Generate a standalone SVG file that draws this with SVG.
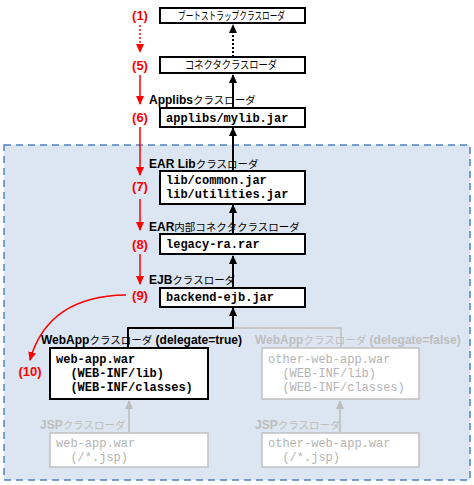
<svg xmlns="http://www.w3.org/2000/svg" width="474" height="485" viewBox="0 0 474 485">
<style>
.box{fill:#fff;stroke:#000;stroke-width:2}
.gbox{fill:#fff;stroke:#c0c0c0;stroke-width:1.5}
.mono{font-family:"Liberation Mono",monospace;font-size:12px;font-weight:bold;fill:#000}
.gmono{font-family:"Liberation Mono",monospace;font-size:12px;fill:#b4b4b4}
.jp{font-family:"Liberation Sans","Noto Sans CJK JP",sans-serif;font-size:11px;fill:#000}
.lbl{font-family:"Liberation Sans","Noto Sans CJK JP",sans-serif;font-size:12px;fill:#000}
.glbl{font-family:"Liberation Sans","Noto Sans CJK JP",sans-serif;font-size:12px;fill:#bdbdbd}
.b{font-weight:bold}
.k{font-size:10.5px}
.num{font-family:"Liberation Sans",sans-serif;font-size:13px;font-weight:bold;fill:#ff0000;text-anchor:middle}
.red{stroke:#ff0000;stroke-width:1.5;fill:none}
.blk{stroke:#000;stroke-width:2;fill:none}
.gry{stroke:#bdbdbd;stroke-width:1.5;fill:none}
</style>
<defs>
<marker id="ar" markerWidth="10" markerHeight="10" refX="8" refY="5" orient="auto" markerUnits="userSpaceOnUse"><path d="M0,1 L9,5 L0,9 Z" fill="#ff0000"/></marker>
<marker id="ab" markerWidth="10" markerHeight="10" refX="8" refY="5" orient="auto" markerUnits="userSpaceOnUse"><path d="M0,1 L9,5 L0,9 Z" fill="#000"/></marker>
<marker id="ag" markerWidth="10" markerHeight="10" refX="8" refY="5" orient="auto" markerUnits="userSpaceOnUse"><path d="M0,1 L9,5 L0,9 Z" fill="#bdbdbd"/></marker>
</defs>
<rect id="container" x="4" y="145" width="466" height="335" fill="#dce6f2" stroke="#4f81bd" stroke-width="1.5" stroke-dasharray="7,5"/>

<g id="connectors">
<line class="blk" x1="233" y1="57" x2="233" y2="25" stroke-dasharray="2,2" marker-end="url(#ab)"/>
<line class="blk" x1="233" y1="108" x2="233" y2="75" marker-end="url(#ab)"/>
<line class="blk" x1="233" y1="171" x2="233" y2="128" marker-end="url(#ab)"/>
<line class="blk" x1="233" y1="234" x2="233" y2="205" marker-end="url(#ab)"/>
<line class="blk" x1="233" y1="289" x2="233" y2="256" marker-end="url(#ab)"/>
<polyline class="gry" points="341,348 341,328 233,328"/>
<polyline class="blk" points="128,348 128,328 233,328 233,308" marker-end="url(#ab)"/>
<line class="gry" x1="129" y1="433" x2="129" y2="401" marker-end="url(#ag)"/>
<line class="gry" x1="340" y1="433" x2="340" y2="401" marker-end="url(#ag)"/>
<line class="red" x1="140" y1="25" x2="140" y2="52" stroke-dasharray="2,2" marker-end="url(#ar)"/>
<line class="red" x1="140" y1="75" x2="140" y2="104" marker-end="url(#ar)"/>
<line class="red" x1="140" y1="127" x2="140" y2="175" marker-end="url(#ar)"/>
<line class="red" x1="140" y1="199" x2="140" y2="230" marker-end="url(#ar)"/>
<line class="red" x1="140" y1="254" x2="140" y2="284" marker-end="url(#ar)"/>
<path class="red" d="M126,295 Q48,296 30,360" marker-end="url(#ar)"/>
</g>

<g id="n1"><rect class="box" x="160" y="8" width="145" height="15"/><text class="jp" x="178" y="19.5" textLength="107" lengthAdjust="spacingAndGlyphs">ブートストラップクラスローダ</text></g>
<g id="n5"><rect class="box" x="160" y="57" width="145" height="16"/><text class="jp" x="185" y="69" textLength="92" lengthAdjust="spacingAndGlyphs">コネクタクラスローダ</text></g>
<g id="n6"><text class="lbl" x="149" y="104"><tspan class="b">Applibs</tspan><tspan class="k">クラスローダ</tspan></text><rect class="box" x="160" y="108" width="145" height="19"/><text class="mono" x="166" y="122">applibs/mylib.jar</text></g>
<g id="n7"><text class="lbl" x="149" y="168"><tspan class="b">EAR Lib</tspan><tspan class="k">クラスローダ</tspan></text><rect class="box" x="160" y="171" width="145" height="33"/><text class="mono" x="166" y="184">lib/common.jar</text><text class="mono" x="166" y="198">lib/utilities.jar</text></g>
<g id="n8"><text class="lbl" x="149" y="231"><tspan class="b">EAR</tspan><tspan class="k">内部コネクタクラスローダ</tspan></text><rect class="box" x="160" y="234" width="145" height="20"/><text class="mono" x="166" y="248">legacy-ra.rar</text></g>
<g id="n9"><text class="lbl" x="149" y="284"><tspan class="b">EJB</tspan><tspan class="k">クラスローダ</tspan></text><rect class="box" x="160" y="288" width="145" height="19"/><text class="mono" x="166" y="301">backend-ejb.jar</text></g>
<g id="n10"><text class="lbl" x="41" y="344"><tspan class="b">WebApp</tspan><tspan class="k">クラスローダ</tspan> <tspan class="b">(delegate=true)</tspan></text><rect class="box" x="50" y="348" width="158" height="51"/><text class="mono" x="56" y="363">web-app.war</text><text class="mono" x="56" y="377" xml:space="preserve">  (WEB-INF/lib)</text><text class="mono" x="56" y="391" xml:space="preserve">  (WEB-INF/classes)</text></g>
<g id="n11"><text class="glbl" x="255" y="344"><tspan class="b">WebApp</tspan><tspan class="k">クラスローダ</tspan> <tspan class="b">(delegate=false)</tspan></text><rect class="gbox" x="262" y="348" width="157" height="51"/><text class="gmono" x="268" y="363">other-web-app.war</text><text class="gmono" x="268" y="377" xml:space="preserve">  (WEB-INF/lib)</text><text class="gmono" x="268" y="391" xml:space="preserve">  (WEB-INF/classes)</text></g>
<g id="n12"><text class="glbl" x="40" y="429"><tspan class="b">JSP</tspan><tspan class="k">クラスローダ</tspan></text><rect class="gbox" x="50" y="433" width="158" height="34"/><text class="gmono" x="56" y="447">web-app.war</text><text class="gmono" x="56" y="461" xml:space="preserve">  (/*.jsp)</text></g>
<g id="n13"><text class="glbl" x="255" y="429"><tspan class="b">JSP</tspan><tspan class="k">クラスローダ</tspan></text><rect class="gbox" x="262" y="433" width="157" height="34"/><text class="gmono" x="268" y="447">other-web-app.war</text><text class="gmono" x="268" y="461" xml:space="preserve">  (/*.jsp)</text></g>

<g id="numbers">
<text class="num" x="140" y="20">(1)</text>
<text class="num" x="140" y="70">(5)</text>
<text class="num" x="140" y="122">(6)</text>
<text class="num" x="140" y="191">(7)</text>
<text class="num" x="140" y="249">(8)</text>
<text class="num" x="140" y="300">(9)</text>
<text class="num" x="30" y="376">(10)</text>
</g>
</svg>
